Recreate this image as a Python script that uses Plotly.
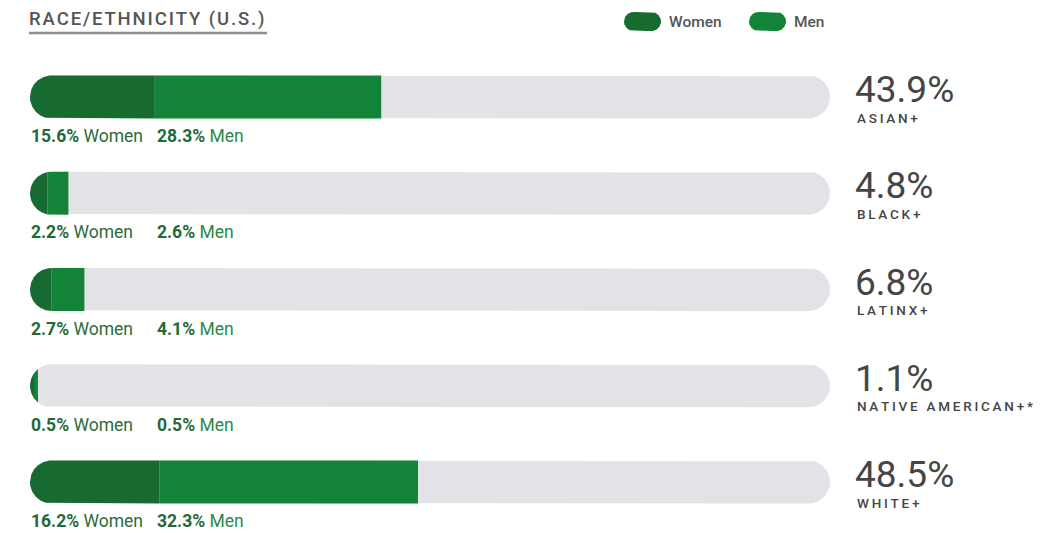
import numpy as np
import plotly.graph_objects as go

# ---- data ----
groups = ["ASIAN+", "BLACK+", "LATINX+", "NATIVE AMERICAN+*", "WHITE+"]
women = [15.6, 2.2, 2.7, 0.5, 16.2]
men = [28.3, 2.6, 4.1, 0.5, 32.3]
totals = [43.9, 4.8, 6.8, 1.1, 48.5]

# ---- styling / layout constants ----
W, H = 1055, 533
LEFT_PX = 30          # pixel position of 0 %
PX_PER_PCT = 8.0      # 100 % spans 800 px
ROW0_PX = 97.0        # pixel centre of the first row
ROW_PX = 96.25        # pixel distance between rows
BAR_HALF_PX = 21.5    # half bar thickness (also cap radius)

C_WOMEN = "#176a30"
C_MEN = "#138437"
C_TRACK = "#e2e3e6"
C_TEXT = "#454545"
C_PCT = "#1f6a36"
C_WOMEN_TXT = "#2d6b3c"
C_MEN_TXT = "#2a8a45"
FONT = "Roboto"

HS = "\u200a"  # hair space, used for letter tracking


def spaced(s, n=1):
    return (HS * n).join(list(s))


def pill_polygon(t0, t1, total_len, radius):
    """Outline of [t0, t1] clipped to a pill of given length/radius (pixels)."""
    pts = np.concatenate([
        np.linspace(t0, t1, 200),
        np.linspace(0, radius, 90),
        np.linspace(total_len - radius, total_len, 90),
        [t0, t1],
    ])
    pts = np.unique(pts[(pts >= t0) & (pts <= t1)])

    def half(t):
        if t < radius:
            d = radius - t
        elif t > total_len - radius:
            d = t - (total_len - radius)
        else:
            return radius
        return np.sqrt(max(radius ** 2 - d ** 2, 0.0))

    hs = np.array([half(t) for t in pts])
    xs = np.concatenate([pts, pts[::-1], pts[:1]])
    ys = np.concatenate([-hs, hs[::-1], -hs[:1]])
    return xs, ys


def to_x(px):
    return (px - LEFT_PX) / PX_PER_PCT


def to_y(px):
    return (px - ROW0_PX) / ROW_PX


fig = go.Figure()


def add_pill(px0, px1, y_center_px, total_len_px, radius_px, color, origin_px):
    xs, ys = pill_polygon(px0 - origin_px, px1 - origin_px, total_len_px, radius_px)
    fig.add_trace(go.Scatter(
        x=to_x(xs + origin_px), y=to_y(ys + y_center_px),
        mode="lines", fill="toself", fillcolor=color,
        line=dict(width=0, color=color), hoverinfo="skip", showlegend=False,
    ))


TRACK_LEN = 100 * PX_PER_PCT

for i, g in enumerate(groups):
    yc = ROW0_PX + i * ROW_PX
    # background track
    add_pill(LEFT_PX, LEFT_PX + TRACK_LEN, yc, TRACK_LEN, BAR_HALF_PX, C_TRACK, LEFT_PX)
    # women segment
    w_end = LEFT_PX + women[i] * PX_PER_PCT
    add_pill(LEFT_PX, w_end, yc, TRACK_LEN, BAR_HALF_PX, C_WOMEN, LEFT_PX)
    # men segment, stacked after women
    m_end = w_end + men[i] * PX_PER_PCT
    add_pill(w_end, m_end, yc, TRACK_LEN, BAR_HALF_PX, C_MEN, LEFT_PX)

# legend pills
add_pill(624, 661, 21.5, 37, 9.5, C_WOMEN, 624)
add_pill(749, 786, 21.5, 37, 9.5, C_MEN, 749)

ann = []


def text(px, py, s, size, color, xanchor="left", weight=None):
    ann.append(dict(
        x=to_x(px), y=to_y(py), xref="x", yref="y", text=s, showarrow=False,
        xanchor=xanchor, yanchor="middle",
        font=dict(family=FONT, size=size, color=color, weight=weight),
    ))


# title with underline
text(27, 19, spaced("RACE/ETHNICITY (U.S.)", 1), 18.5, "#555555", weight=500)
fig.add_shape(type="line", xref="x", yref="y",
              x0=to_x(29), x1=to_x(267), y0=to_y(33), y1=to_y(33),
              line=dict(color="#8c8c8c", width=2.5))

# legend text
text(667, 22, "Women", 15.5, "#555555", weight=500)
text(792, 22, "Men", 15.5, "#555555", weight=500)

for i, g in enumerate(groups):
    yc = ROW0_PX + i * ROW_PX
    text(29, yc + 39,
         f"<b><span style='color:{C_PCT}'>{women[i]:.1f}%</span></b>"
         f"<span style='color:{C_WOMEN_TXT}'> Women</span>", 17.5, C_PCT)
    text(155, yc + 39,
         f"<b><span style='color:{C_PCT}'>{men[i]:.1f}%</span></b>"
         f"<span style='color:{C_MEN_TXT}'> Men</span>", 17.5, C_PCT)
    text(853, yc - 7.5, f"{totals[i]:.1f}%", 37, C_TEXT)
    text(855, yc + 20.5, spaced(g, 2), 13.5, C_TEXT, weight=500)

fig.update_layout(
    width=W, height=H,
    margin=dict(l=0, r=0, t=0, b=0),
    paper_bgcolor="white", plot_bgcolor="white",
    xaxis=dict(range=[to_x(0), to_x(W)], visible=False, fixedrange=True),
    yaxis=dict(range=[to_y(H), to_y(0)], visible=False, fixedrange=True),
    annotations=ann,
    showlegend=False,
)

fig.write_html("out.html")
